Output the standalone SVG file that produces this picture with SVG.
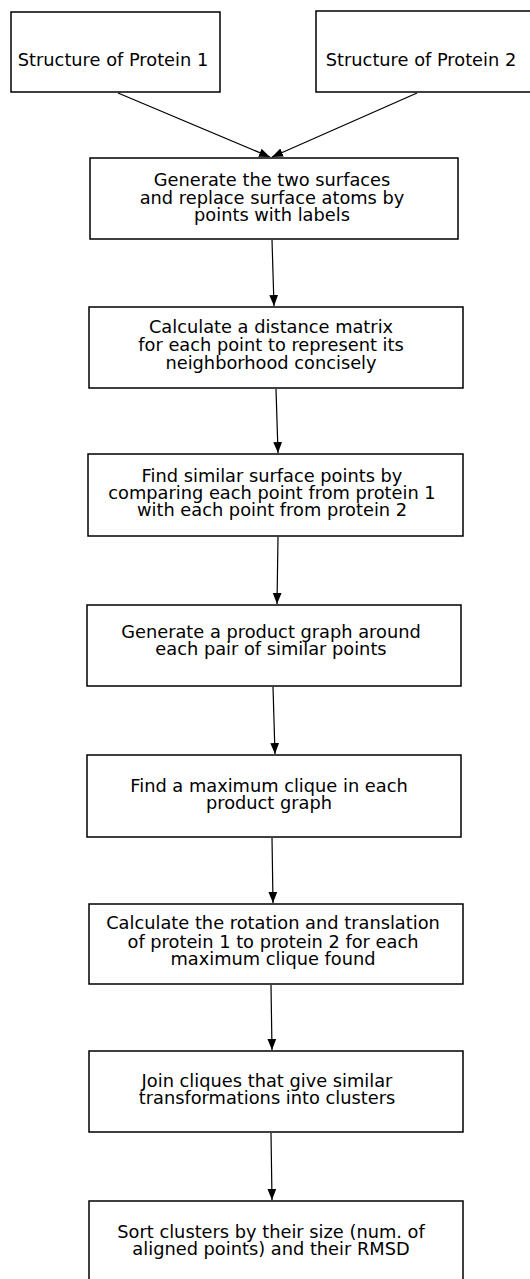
<svg xmlns="http://www.w3.org/2000/svg" width="530" height="1279" viewBox="0 0 530 1279">
<style>
.box{fill:#fff;stroke:#000;stroke-width:1.5}
.t{font-family:"DejaVu Sans",sans-serif;font-size:17.8px;text-anchor:middle;fill:#000}
.c{stroke:#000;stroke-width:1.2;fill:none;marker-end:url(#ah)}
</style>
<defs>
<marker id="ah" viewBox="0 0 10 10" refX="10" refY="5" markerWidth="11" markerHeight="11" markerUnits="userSpaceOnUse" orient="auto">
<path d="M0,1 L10,5 L0,9 Z" fill="#000"/>
</marker>
</defs>
<rect width="530" height="1279" fill="#fff"/>
<g id="connectors">
<line class="c" x1="118" y1="93" x2="270" y2="157"/>
<line class="c" x1="417" y1="93" x2="272" y2="157"/>
<line class="c" x1="272" y1="240" x2="274" y2="306"/>
<line class="c" x1="276" y1="389" x2="278" y2="453"/>
<line class="c" x1="278" y1="537" x2="277" y2="604"/>
<line class="c" x1="273" y1="687" x2="275" y2="754"/>
<line class="c" x1="272" y1="838" x2="273" y2="903"/>
<line class="c" x1="271" y1="985" x2="272" y2="1050"/>
<line class="c" x1="271" y1="1133" x2="272" y2="1200"/>
</g>
<g id="n1"><rect class="box" x="11" y="12" width="209" height="80"/><text class="t" x="113" y="66">Structure of Protein 1</text></g>
<g id="n2"><rect class="box" x="316" y="11" width="230" height="81"/><text class="t" x="421" y="66">Structure of Protein 2</text></g>
<g id="n3"><rect class="box" x="90" y="158" width="368" height="81"/><text class="t" x="272" y="186">Generate the two surfaces</text><text class="t" x="272" y="204">and replace surface atoms by</text><text class="t" x="272" y="221">points with labels</text></g>
<g id="n4"><rect class="box" x="89" y="307" width="374" height="81"/><text class="t" x="271" y="333">Calculate a distance matrix</text><text class="t" x="271" y="351">for each point to represent its</text><text class="t" x="271" y="369">neighborhood concisely</text></g>
<g id="n5"><rect class="box" x="88" y="454" width="375" height="82"/><text class="t" x="272" y="482">Find similar surface points by</text><text class="t" x="272" y="499">comparing each point from protein 1</text><text class="t" x="272" y="516">with each point from protein 2</text></g>
<g id="n6"><rect class="box" x="87" y="605" width="374" height="81"/><text class="t" x="271" y="638">Generate a product graph around</text><text class="t" x="271" y="655">each pair of similar points</text></g>
<g id="n7"><rect class="box" x="87" y="755" width="374" height="82"/><text class="t" x="269" y="792">Find a maximum clique in each</text><text class="t" x="269" y="809">product graph</text></g>
<g id="n8"><rect class="box" x="89" y="904" width="374" height="80"/><text class="t" x="273" y="929">Calculate the rotation and translation</text><text class="t" x="273" y="948">of protein 1 to protein 2 for each</text><text class="t" x="273" y="965">maximum clique found</text></g>
<g id="n9"><rect class="box" x="89" y="1051" width="374" height="81"/><text class="t" x="267" y="1087">Join cliques that give similar</text><text class="t" x="267" y="1104">transformations into clusters</text></g>
<g id="n10"><rect class="box" x="89" y="1201" width="374" height="90"/><text class="t" x="271" y="1238">Sort clusters by their size (num. of</text><text class="t" x="271" y="1255">aligned points) and their RMSD</text></g>
</svg>
